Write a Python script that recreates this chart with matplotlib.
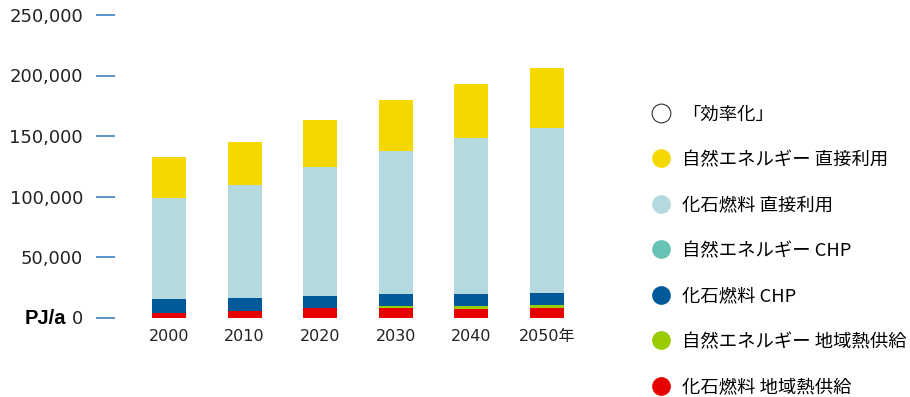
import numpy as np
import matplotlib
matplotlib.use("Agg")
import matplotlib.pyplot as plt
from matplotlib.lines import Line2D

plt.rcParams['font.family'] = ['DejaVu Sans', 'Noto Sans CJK JP']

years = ['2000', '2010', '2020', '2030', '2040', '2050年']

# PJ/a per category, stacked bottom to top
fossil_dh = [3900, 5000, 8260, 8260, 7200, 8000]        # 化石燃料 地域熱供給
renew_dh = [0, 0, 0, 1400, 2500, 2500]                   # 自然エネルギー 地域熱供給
fossil_chp = [11550, 11300, 9640, 9930, 9930, 9900]      # 化石燃料 CHP
renew_chp = [0, 0, 0, 0, 0, 0]                           # 自然エネルギー CHP
fossil_direct = [83700, 92800, 106600, 118200, 128900, 136400]  # 化石燃料 直接利用
renew_direct = [33600, 36100, 38900, 42100, 44600, 49600]       # 自然エネルギー 直接利用

legend_labels = ['「効率化」', '自然エネルギー 直接利用', '化石燃料 直接利用',
                 '自然エネルギー CHP', '化石燃料 CHP', '自然エネルギー 地域熱供給',
                 '化石燃料 地域熱供給']
legend_colors = ['white', '#f5d800', '#b4d9df', '#66c2b4', '#005a9a', '#99cc00', '#e60000']

yticks = [0, 50000, 100000, 150000, 200000, 250000]
ytick_labels = ['0', '50,000', '100,000', '150,000', '200,000', '250,000']

W, H = 910, 397
fig = plt.figure(figsize=(W / 100, H / 100), dpi=100)
ax = fig.add_axes([115 / W, 1 - 317.5 / H, (600 - 115) / W, (317.5 - 15) / H])

x = np.arange(len(years))
series = [(fossil_dh, '#e60000'), (renew_dh, '#99cc00'), (fossil_chp, '#005a9a'),
          (renew_chp, '#66c2b4'), (fossil_direct, '#b4d9df'), (renew_direct, '#f5d800')]
bottom = np.zeros(len(years))
for vals, col in series:
    ax.bar(x, vals, width=0.45, bottom=bottom, color=col, linewidth=0)
    bottom += np.array(vals)

ax.set_xlim((115 - 169) / 75.6, (600 - 169) / 75.6)
ax.set_ylim(0, 250000)
for s in ax.spines.values():
    s.set_visible(False)

ax.set_yticks(yticks)
ax.set_yticklabels(ytick_labels, fontsize=13, color='#222222')
ax.tick_params(axis='y', length=13.7, width=1.3, color='#4f8cc4', pad=9.4)
ax.set_xticks(x)
ax.set_xticklabels(years, fontsize=11.5, color='#222222')
ax.tick_params(axis='x', length=0, pad=8)

fig.text(66 / W, 1 - 318 / H, 'PJ/a', ha='right', va='center', fontsize=14.5,
         fontweight='bold', family='Liberation Sans')

handles = [Line2D([], [], marker='o', linestyle='none', markersize=13.5,
                  markerfacecolor=c, markeredgecolor='#333333' if c == 'white' else c,
                  markeredgewidth=0.8 if c == 'white' else 0)
           for c in legend_colors]
fig.legend(handles, legend_labels, loc='upper left', bbox_to_anchor=(644 / W, 1 - 98 / H),
           frameon=False, labelspacing=1.5, handletextpad=0.68,
           handlelength=1.0, borderaxespad=0,
           prop={'family': ['Noto Sans CJK JP', 'DejaVu Sans'], 'size': 13.2})

fig.savefig('out.png', dpi=100)
